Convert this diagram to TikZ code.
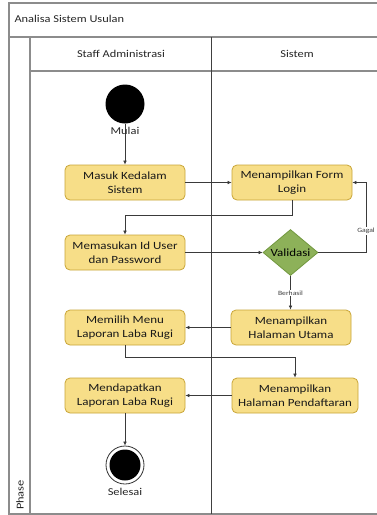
\documentclass[tikz,border=0pt]{standalone}
\usepackage{fontspec}
\setmainfont{Carlito}[FakeStretch=1.18]
\usetikzlibrary{shapes.geometric,arrows.meta}
\definecolor{boxfill}{HTML}{F7DE88}
\definecolor{boxline}{HTML}{C9A537}
\definecolor{dfill}{HTML}{8DB159}
\definecolor{dline}{HTML}{72983F}
\definecolor{frame}{HTML}{8C8C8C}
\definecolor{conn}{HTML}{3A3A3A}
\begin{document}
\begin{tikzpicture}[x=1pt,y=-1pt,
  act/.style={draw=boxline, fill=boxfill, rounded corners=5pt, minimum width=120pt,
    minimum height=35pt, align=center, font=\fontsize{11}{13.5}\selectfont,
    inner sep=1pt, line width=0.8pt, text=black!90},
  dec/.style={diamond, draw=dline, fill=dfill, minimum width=55pt, minimum height=46pt,
    inner sep=0pt, aspect=1.2, line width=0.8pt, font=\fontsize{11}{13}\selectfont},
  flow/.style={draw=conn, line width=0.6pt, -{Latex[length=4pt,width=3.6pt]}},
  frameline/.style={draw=frame, line width=1.3pt},
  tiny/.style={fill=white, inner sep=0.8pt, font=\fontsize{6.5}{7}\selectfont, text=black!75},
  lbl/.style={font=\fontsize{10.5}{12}\selectfont, text=black!85}
]
\useasboundingbox (0,0) rectangle (377,515);
\fill[white] (0,0) rectangle (377,515);

% frame
\draw[frameline] (377,3) -- (9,3) -- (9,514) -- (377,514);
\draw[frameline] (9,37) -- (377,37);
\draw[frameline] (30,37) -- (30,514);
\draw[frameline] (30,71) -- (377,71);
\draw[draw=black!75, line width=0.8pt] (211,37) -- (211,514);

\node[anchor=west, lbl] (title) at (11,19) {Analisa Sistem Usulan};
\node[lbl] (lane1) at (121,54) {Staff Administrasi};
\node[lbl] (lane2) at (297,54) {Sistem};
\node[lbl, rotate=90] (phase) at (20,495) {Phase};

% nodes
\node[circle, fill=black, minimum size=39pt, inner sep=0pt] (start) at (125,104) {};
\node[act] (masuk) at (125,182.5) {Masuk Kedalam\\Sistem};
\node[act] (form) at (292,182.5) {Menampilkan Form\\Login};
\node[act] (id) at (125,252.5) {Memasukan Id User\\dan Password};
\node[dec] (val) at (290.5,252.5) {Validasi};
\node[act] (utama) at (291,327.5) {Menampilkan\\Halaman Utama};
\node[act] (menu) at (125,327.5) {Memilih Menu\\Laporan Laba Rugi};
\node[act, minimum width=126pt] (daftar) at (295,395.5) {Menampilkan\\Halaman Pendaftaran};
\node[act] (dapat) at (125,395.5) {Mendapatkan\\Laporan Laba Rugi};
\node[circle, draw=black!80, line width=0.8pt, minimum size=38pt, inner sep=0pt] (end) at (125,465) {};
\node[circle, fill=black, minimum size=31pt, inner sep=0pt] (endin) at (end.center) {};
\node[lbl] (selesai) at (125,492) {Selesai};

\coordinate (gagalc) at (366,182.5);

% connectors
\draw[flow] (start) -- (masuk.north);
\draw[flow] (masuk.east) -- (form.west);
\draw[flow] (form.south -| 292,0) -- (292,215) -| (id.north);
\draw[flow] (id.east) -- (val.west);
\draw[flow] (val.east) -| (gagalc) -- (form.east);
\draw[flow] (val.south) -- (utama.north -| val.south);
\draw[flow] (utama.west) -- (menu.east);
\draw[flow] (menu.south) -- (125,357) -| (daftar.north);
\draw[flow] (daftar.west) -- (dapat.east);
\draw[flow] (dapat.south) -- (end.north);

\node[lbl] (mulai) at (125,131) {Mulai};
\node[tiny] (gagal) at (366,231) {Gagal};
\node[tiny] (berhasil) at (290.5,293) {Berhasil};
\end{tikzpicture}
\end{document}
